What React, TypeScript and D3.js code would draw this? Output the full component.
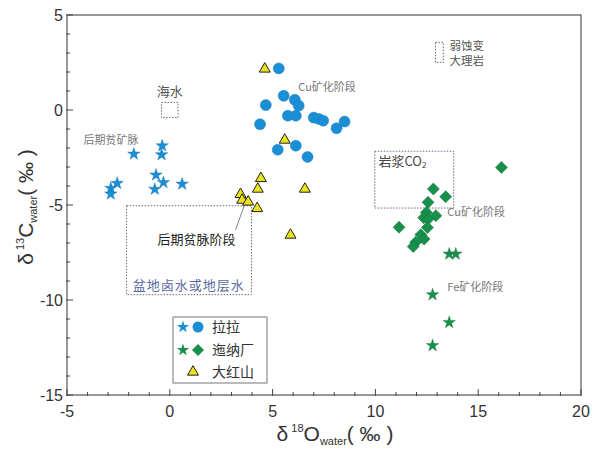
import React from 'react';
import * as d3 from 'd3';

// 拉拉 - stars (后期贫矿脉)
const lalaStarX = [-0.37, -0.4, -1.75, -0.67, -0.31, -0.73, 0.6, -2.56, -2.87, -2.87];
const lalaStarY = [-1.88, -2.35, -2.32, -3.42, -3.82, -4.17, -3.9, -3.86, -4.12, -4.42];
// 拉拉 - circles (Cu矿化阶段)
const lalaCircX = [5.3, 5.54, 6.08, 6.27, 4.67, 5.74, 6.13, 7.0, 7.25, 7.46, 8.11, 8.5, 4.39, 5.25, 6.13, 6.7];
const lalaCircY = [2.19, 0.75, 0.54, 0.23, 0.26, -0.3, -0.3, -0.4, -0.47, -0.56, -0.96, -0.61, -0.75, -2.09, -1.88, -2.47];
// 迤纳厂 - diamonds (Cu矿化阶段)
const ynDiaX = [16.13, 12.82, 13.42, 12.56, 12.48, 12.94, 12.35, 12.56, 12.53, 11.15, 12.21, 12.37, 11.96, 11.84];
const ynDiaY = [-3.02, -4.16, -4.56, -4.86, -5.39, -5.56, -5.67, -5.74, -6.19, -6.17, -6.56, -6.79, -6.96, -7.19];
// 迤纳厂 - stars (Fe矿化阶段)
const ynStarX = [13.59, 13.91, 12.78, 13.59, 12.78];
const ynStarY = [-7.58, -7.58, -9.72, -11.18, -12.4];
// 大红山 - triangles
const dhsX = [4.62, 5.59, 4.43, 4.28, 6.57, 3.44, 3.52, 3.81, 4.25, 5.87];
const dhsY = [2.16, -1.58, -3.6, -4.16, -4.16, -4.44, -4.74, -4.84, -5.18, -6.58];

const xTicks = [-5, 0, 5, 10, 15, 20];
const yTicks = [5, 0, -5, -10, -15];

const BLUE = '#1b8fd6';
const GREEN = '#17904c';
const YELLOW = '#ece41a';

const W = 593;
const H = 450;

const App = () => {
  const x = d3.scaleLinear().domain([-5, 20]).range([67, 581]);
  const y = d3.scaleLinear().domain([-15, 5]).range([395, 15]);

  const star = d3.symbol().type(d3.symbolStar).size(48)()!;
  const tri = d3.symbol().type(d3.symbolTriangle).size(52)()!;
  const dia = d3.symbol().type(d3.symbolSquare).size(72)()!;

  const minorX = d3.range(-5, 21, 1);
  const minorY = d3.range(-15, 6, 1);

  const box = (x0: number, x1: number, y0: number, y1: number) => (
    <rect x={x(x0)} y={y(y0)} width={x(x1) - x(x0)} height={y(y1) - y(y0)}
      fill="none" stroke="#6a6a80" strokeWidth={1} strokeDasharray="1.5,1.5" />
  );

  const cjk = '"Noto Sans CJK SC", sans-serif';
  const lab = '"Liberation Sans", Arial, sans-serif';

  return (
    <svg width={W} height={H} style={{ position: 'absolute', left: 0, top: 0, background: '#fff' }}>
      {/* frame */}
      <rect x={x(-5)} y={y(5)} width={x(20) - x(-5)} height={y(-15) - y(5)} fill="none" stroke="#555" strokeWidth={1.2} />
      {minorX.map(v => (
        <line key={'mx' + v} x1={x(v)} x2={x(v)} y1={y(-15) - (v % 5 === 0 ? 6 : 3)} y2={y(-15) + 1} stroke="#444" />
      ))}
      {minorY.map(v => (
        <line key={'my' + v} x1={x(-5) - 1} x2={x(-5) + (v % 5 === 0 ? 6 : 3)} y1={y(v)} y2={y(v)} stroke="#444" />
      ))}
      {xTicks.map(v => (
        <text key={'xt' + v} x={x(v)} y={y(-15) + 22} textAnchor="middle" fontFamily={lab} fontSize={16} fill="#333">{v}</text>
      ))}
      {yTicks.map(v => (
        <text key={'yt' + v} x={x(-5) - 4} y={y(v) + 6} textAnchor="end" fontFamily={lab} fontSize={16} fill="#333">{v}</text>
      ))}

      {/* axis titles */}
      <text x={335} y={441} textAnchor="middle" fontFamily={lab} fontSize={21} fill="#333">
        δ<tspan fontSize={11} dy={-9}> 18</tspan><tspan dy={9}>O</tspan><tspan fontSize={11} dy={4}>water</tspan><tspan dy={-4}>( ‰ )</tspan>
      </text>
      <text transform="translate(33,207) rotate(-90)" textAnchor="middle" fontFamily={lab} fontSize={21} fill="#333">
        δ<tspan fontSize={11} dy={-9}> 13</tspan><tspan dy={9}>C</tspan><tspan fontSize={11} dy={4}>water</tspan><tspan dy={-4}>( ‰ )</tspan>
      </text>

      {/* reference fields */}
      {box(-0.4, 0.4, 0.4, -0.4)}
      <text x={x(0)} y={y(0.75)} textAnchor="middle" fontFamily={cjk} fontSize={13} fill="#555">海水</text>
      {box(12.92, 13.3, 3.56, 2.5)}
      <text x={x(13.6)} y={y(3.15)} fontFamily={cjk} fontSize={11.5} fill="#555">弱蚀变</text>
      <text x={x(13.6)} y={y(2.35)} fontFamily={cjk} fontSize={11.5} fill="#555">大理岩</text>
      {box(9.97, 13.81, -2.17, -5.16)}
      <text x={x(10.15)} y={y(-2.95)} fontFamily={cjk} fontSize={13} fill="#444">岩浆CO<tspan fontSize={8} dy={2}>2</tspan></text>
      {box(-2.1, 3.97, -5.04, -9.72)}
      <text x={x(-1.8)} y={y(-9.45)} fontFamily={cjk} fontSize={13} fill="#5a6aa0" letterSpacing={1}>盆地卤水或地层水</text>
      <text x={x(1.3)} y={y(-7.05)} textAnchor="middle" fontFamily={cjk} fontSize={13} fill="#222">后期贫脉阶段</text>
      <line x1={x(3.2)} y1={y(-6.3)} x2={x(3.68)} y2={y(-4.85)} stroke="#666" strokeWidth={0.8} />

      <text x={x(-4.2)} y={y(-1.8)} fontFamily={cjk} fontSize={11} fill="#777">后期贫矿脉</text>
      <text x={x(6.25)} y={y(1.0)} fontFamily={cjk} fontSize={11} fill="#777">Cu矿化阶段</text>
      <text x={x(13.5)} y={y(-5.6)} fontFamily={cjk} fontSize={11} fill="#777">Cu矿化阶段</text>
      <text x={x(13.5)} y={y(-9.55)} fontFamily={cjk} fontSize={11} fill="#777">Fe矿化阶段</text>

      {/* data */}
      {lalaStarX.map((v, i) => (
        <path key={'ls' + i} d={star} transform={`translate(${x(v)},${y(lalaStarY[i])})`} fill={BLUE} stroke="#1570a8" strokeWidth={0.4} />
      ))}
      {lalaCircX.map((v, i) => (
        <circle key={'lc' + i} cx={x(v)} cy={y(lalaCircY[i])} r={5.5} fill={BLUE} stroke="#1a7cc0" strokeWidth={0.5} />
      ))}
      {ynDiaX.map((v, i) => (
        <path key={'yd' + i} d={dia} transform={`translate(${x(v)},${y(ynDiaY[i])}) rotate(45)`} fill={GREEN} stroke="#0f7038" strokeWidth={0.5} />
      ))}
      {ynStarX.map((v, i) => (
        <path key={'ys' + i} d={star} transform={`translate(${x(v)},${y(ynStarY[i])})`} fill={GREEN} stroke="#0f7038" strokeWidth={0.4} />
      ))}
      {dhsX.map((v, i) => (
        <path key={'dh' + i} d={tri} transform={`translate(${x(v)},${y(dhsY[i])})`} fill={YELLOW} stroke="#222" strokeWidth={1} />
      ))}

      {/* legend */}
      <rect x={173} y={317} width={94} height={66} fill="#fff" stroke="#777" strokeWidth={1} />
      <path d={star} transform="translate(183,327)" fill={BLUE} />
      <circle cx={198} cy={327} r={5.5} fill={BLUE} />
      <text x={212} y={332} fontFamily={cjk} fontSize={14} fill="#333">拉拉</text>
      <path d={star} transform="translate(183,350)" fill={GREEN} />
      <path d={dia} transform="translate(198,350) rotate(45)" fill={GREEN} />
      <text x={212} y={355} fontFamily={cjk} fontSize={14} fill="#333">迤纳厂</text>
      <path d={tri} transform="translate(193,372)" fill={YELLOW} stroke="#222" strokeWidth={1} />
      <text x={212} y={377} fontFamily={cjk} fontSize={14} fill="#333">大红山</text>
    </svg>
  );
};

export default App;
